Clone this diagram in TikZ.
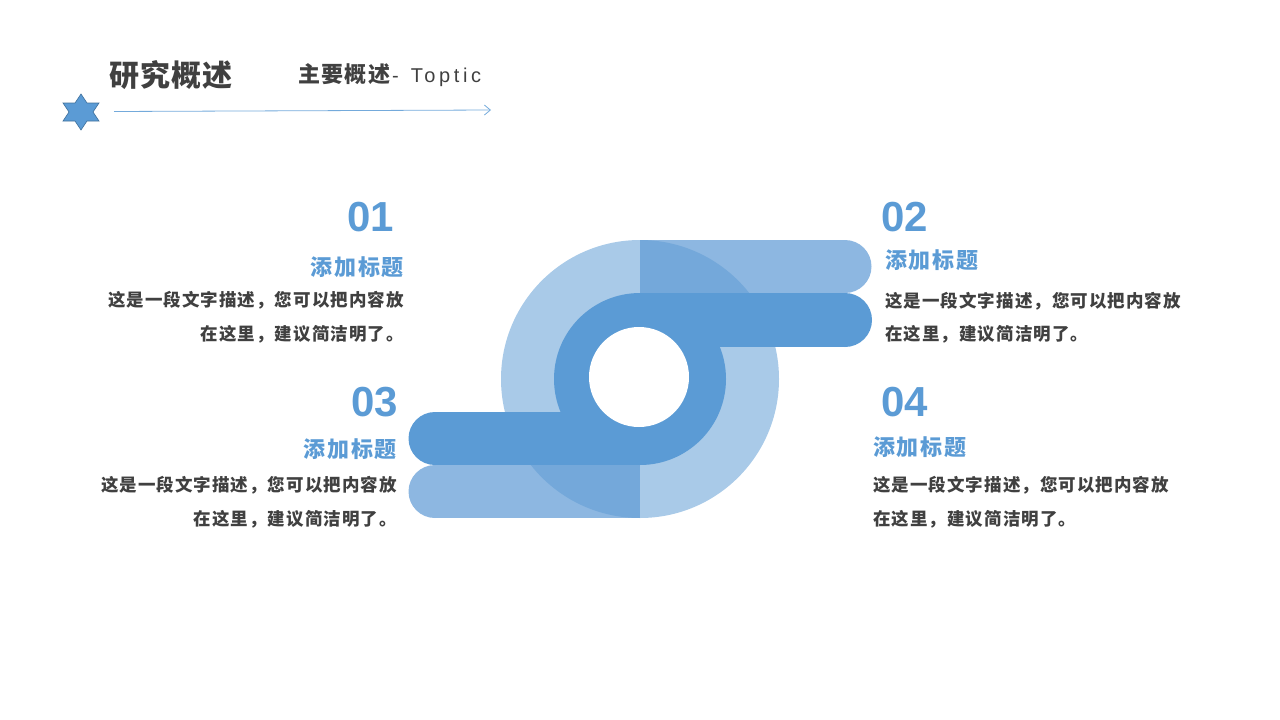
\documentclass[tikz,border=0pt]{standalone}
\usepackage{fontspec}
\setmainfont{Liberation Sans}
\newfontfamily\cjk{Noto Sans CJK SC}
\newfontfamily\cjkhd{Noto Sans CJK SC}[LetterSpace=4]
\newfontfamily\cjksub{Noto Sans CJK SC}[LetterSpace=6]
\newfontfamily\cjksp{Noto Sans CJK SC}[LetterSpace=6]
\newfontfamily\cjkti{Noto Sans CJK SC}[LetterSpace=8]
\newfontfamily\latsp{Liberation Sans}[LetterSpace=18]
\usetikzlibrary{arrows.meta}
\definecolor{cdark}{HTML}{5B9BD5}
\definecolor{cmid}{HTML}{8DB7E1}
\definecolor{cover}{HTML}{74A8DA}
\definecolor{clight}{HTML}{A9CAE8}
\definecolor{ctext}{HTML}{404040}
\definecolor{cstar}{HTML}{41719C}
\tikzset{
  numtxt/.style={inner sep=0pt, text=cdark, font=\fontsize{42}{42}\selectfont\bfseries},
  titletxt/.style={inner sep=0pt, text=cdark, font=\cjkti\fontsize{22}{22}\selectfont\bfseries},
  bodytxt/.style={inner sep=0pt, text=ctext, font=\cjksp\fontsize{17.5}{18}\selectfont\bfseries},
}
\begin{document}
\begin{tikzpicture}[x=1pt,y=-1pt]
\useasboundingbox (0,0) rectangle (1280,720);
% header
\node[inner sep=0pt, anchor=west, text=ctext, font=\cjkhd\fontsize{30}{30}\selectfont\bfseries] (head) at (109,75) {研究概述};
\node[inner sep=0pt, anchor=west, text=ctext] (sub) at (298,75) {{\cjksub\fontsize{22}{22}\selectfont\bfseries 主要概述}{\fontsize{20}{20}\selectfont \hspace{2pt}-\hspace{12pt}\latsp Toptic}};
\fill[cdark, draw=cstar, line width=0.6pt] (81,94) -- (87,103) -- (99,103) -- (93,112) -- (99,121) -- (87,121) -- (81,130) -- (75,121) -- (63,121) -- (69,112) -- (63,103) -- (75,103) -- cycle;
\coordinate (star) at (81,112);
\coordinate (la) at (114,111.5);
\coordinate (lb) at (491,110);
\draw[cdark!85, line width=0.8pt, -{Straight Barb[length=6pt,width=10pt,line width=0.8pt]}] (la) -- (lb);
% central graphic
\coordinate (c) at (640,379);
\fill[clight] (c) circle[radius=139];
\fill[cmid] (640,240) rectangle (845,293);
\fill[cmid] (845,266.5) circle[radius=26.5];
\fill[cmid] (435,465) rectangle (640,518);
\fill[cmid] (435,491.5) circle[radius=26.5];
\begin{scope}
\clip (c) circle[radius=139];
\fill[cover] (640,240) rectangle (780,293);
\fill[cover] (500,465) rectangle (640,518);
\end{scope}
\fill[cdark] (c) circle[radius=86];
\fill[cdark] (640,293) rectangle (845,347);
\fill[cdark] (845,320) circle[radius=27];
\fill[cdark] (435,412) rectangle (640,465);
\fill[cdark] (435,438.5) circle[radius=26.5];
\fill[white] (639,377) circle[radius=50];
% section 01
\node[numtxt, anchor=base east] (n1) at (394,231) {01};
\node[titletxt, anchor=east] (t1) at (404,267) {添加标题};
\node[bodytxt, anchor=east] (a1) at (404,300) {这是一段文字描述，您可以把内容放};
\node[bodytxt, anchor=east] (b1) at (404,334) {在这里，建议简洁明了。};
% section 02
\node[numtxt, anchor=base west] (n2) at (881,231) {02};
\node[titletxt, anchor=west] (t2) at (885,260) {添加标题};
\node[bodytxt, anchor=west] (a2) at (885,301) {这是一段文字描述，您可以把内容放};
\node[bodytxt, anchor=west] (b2) at (885,334) {在这里，建议简洁明了。};
% section 03
\node[numtxt, anchor=base east] (n3) at (398,416) {03};
\node[titletxt, anchor=east] (t3) at (397,449) {添加标题};
\node[bodytxt, anchor=east] (a3) at (397,485) {这是一段文字描述，您可以把内容放};
\node[bodytxt, anchor=east] (b3) at (397,519) {在这里，建议简洁明了。};
% section 04
\node[numtxt, anchor=base west] (n4) at (881,416) {04};
\node[titletxt, anchor=west] (t4) at (873,447) {添加标题};
\node[bodytxt, anchor=west] (a4) at (873,485) {这是一段文字描述，您可以把内容放};
\node[bodytxt, anchor=west] (b4) at (873,519) {在这里，建议简洁明了。};
\end{tikzpicture}
\end{document}
